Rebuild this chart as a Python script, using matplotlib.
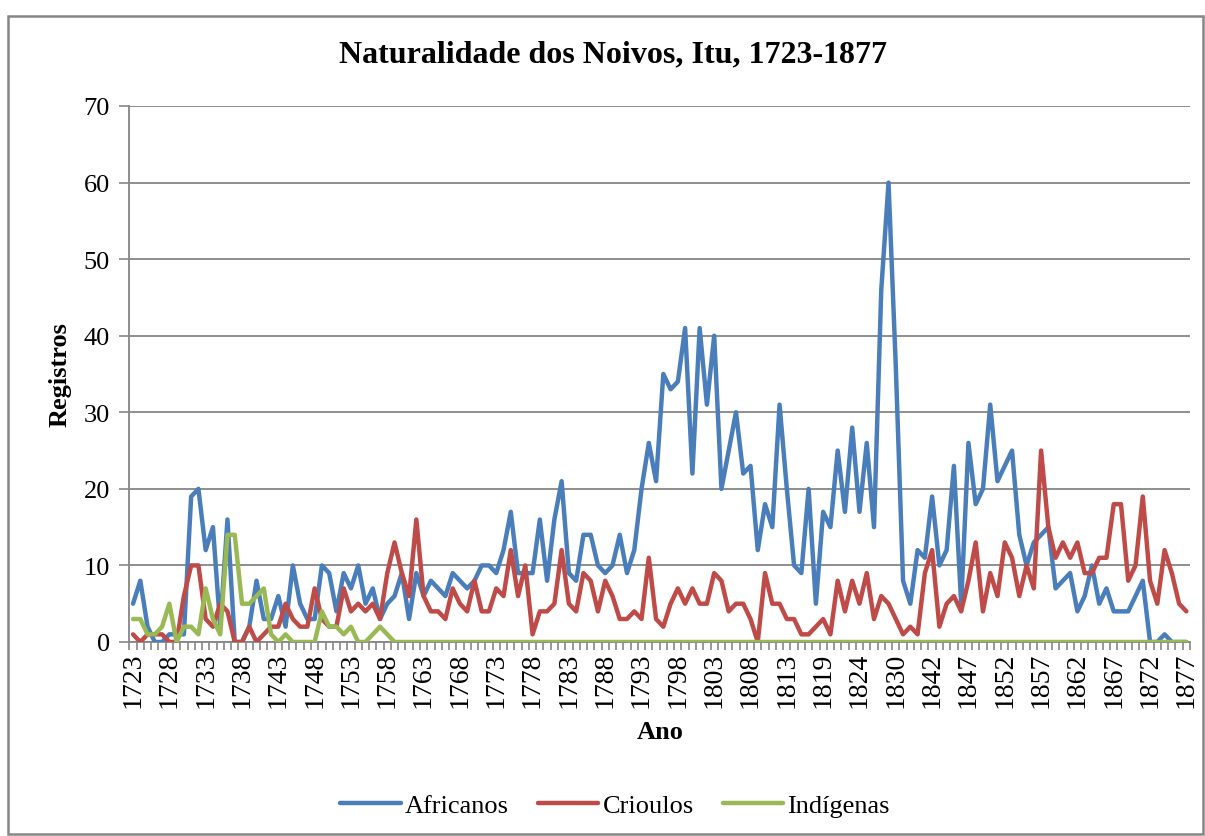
import matplotlib
matplotlib.use('Agg')
import matplotlib.pyplot as plt
from matplotlib.patches import Rectangle
import numpy as np

# Categories (years with records); labels shown every 5th category
years = (list(range(1723, 1814)) + [1814, 1815, 1817, 1818, 1819]
         + list(range(1820, 1825)) + [1825, 1826, 1827, 1828, 1830]
         + [1831, 1832, 1833, 1841, 1842] + list(range(1843, 1878)))

africanos = [5, 8, 2, 0, 0, 1, 1, 1, 19, 20,
             12, 15, 2, 16, 0, 0, 2, 8, 3, 3,
             6, 2, 10, 5, 3, 3, 10, 9, 4, 9,
             7, 10, 5, 7, 3, 5, 6, 9, 3, 9,
             6, 8, 7, 6, 9, 8, 7, 8, 10, 10,
             9, 12, 17, 9, 9, 9, 16, 8, 16, 21,
             9, 8, 14, 14, 10, 9, 10, 14, 9, 12,
             20, 26, 21, 35, 33, 34, 41, 22, 41, 31,
             40, 20, 25, 30, 22, 23, 12, 18, 15, 31,
             20, 10, 9, 20, 5, 17, 15, 25, 17, 28,
             17, 26, 15, 46, 60, 36, 8, 5, 12, 11,
             19, 10, 12, 23, 5, 26, 18, 20, 31, 21,
             23, 25, 14, 10, 13, 14, 15, 7, 8, 9,
             4, 6, 10, 5, 7, 4, 4, 4, 6, 8,
             0, 0, 1, 0, 0, 0]

crioulos = [1, 0, 1, 1, 1, 0, 0, 6, 10, 10,
            3, 2, 5, 4, 0, 0, 2, 0, 1, 2,
            2, 5, 3, 2, 2, 7, 3, 2, 2, 7,
            4, 5, 4, 5, 3, 9, 13, 9, 6, 16,
            6, 4, 4, 3, 7, 5, 4, 8, 4, 4,
            7, 6, 12, 6, 10, 1, 4, 4, 5, 12,
            5, 4, 9, 8, 4, 8, 6, 3, 3, 4,
            3, 11, 3, 2, 5, 7, 5, 7, 5, 5,
            9, 8, 4, 5, 5, 3, 0, 9, 5, 5,
            3, 3, 1, 1, 2, 3, 1, 8, 4, 8,
            5, 9, 3, 6, 5, 3, 1, 2, 1, 9,
            12, 2, 5, 6, 4, 8, 13, 4, 9, 6,
            13, 11, 6, 10, 7, 25, 15, 11, 13, 11,
            13, 9, 9, 11, 11, 18, 18, 8, 10, 19,
            8, 5, 12, 9, 5, 4]

indigenas = [3, 3, 1, 1, 2, 5, 0, 2, 2, 1,
             7, 3, 1, 14, 14, 5, 5, 6, 7, 1,
             0, 1, 0, 0, 0, 0, 4, 2, 2, 1,
             2, 0, 0, 1, 2, 1, 0, 0, 0, 0,
             0, 0, 0, 0, 0, 0, 0, 0, 0, 0,
             0, 0, 0, 0, 0, 0, 0, 0, 0, 0,
             0, 0, 0, 0, 0, 0, 0, 0, 0, 0,
             0, 0, 0, 0, 0, 0, 0, 0, 0, 0,
             0, 0, 0, 0, 0, 0, 0, 0, 0, 0,
             0, 0, 0, 0, 0, 0, 0, 0, 0, 0,
             0, 0, 0, 0, 0, 0, 0, 0, 0, 0,
             0, 0, 0, 0, 0, 0, 0, 0, 0, 0,
             0, 0, 0, 0, 0, 0, 0, 0, 0, 0,
             0, 0, 0, 0, 0, 0, 0, 0, 0, 0,
             0, 0, 0, 0, 0, 0]

series_names = ['Africanos', 'Crioulos', 'Indígenas']
series_colors = ['#4A7EBB', '#BE4B48', '#98B954']

plt.rcParams['font.family'] = ['Liberation Serif', 'DejaVu Serif']

W, H = 1205, 837
fig = plt.figure(figsize=(W / 100, H / 100), dpi=100)

# outer chart border
fig.patches.append(Rectangle((8 / W, 1 - 835 / H), (1203 - 8) / W, (835 - 17) / H,
                             transform=fig.transFigure, fill=False,
                             edgecolor='#868686', lw=1.8, zorder=0))

ax = fig.add_axes([129.4 / W, 1 - 643 / H, (1190 - 129.4) / W, (643 - 107) / H])
x = np.arange(len(years))
for vals, name, col in zip([africanos, crioulos, indigenas], series_names, series_colors):
    ax.plot(x, vals, color=col, lw=3.2, label=name, solid_joinstyle='round',
            solid_capstyle='round', zorder=3)

ax.set_xlim(-0.5, len(years) - 0.5)
ax.set_ylim(0, 70)
ax.set_yticks(range(0, 71, 10))
ax.grid(axis='y', color='#868686', lw=1.3)
ax.set_axisbelow(True)
for s in ['top', 'right']:
    ax.spines[s].set_visible(False)
for s in ['left', 'bottom']:
    ax.spines[s].set_color('#868686')
    ax.spines[s].set_linewidth(1.3)

ax.set_xticks(x[::5])
ax.set_xticklabels([str(years[i]) for i in x[::5]], rotation=90)
ax.set_xticks(np.arange(-0.5, len(years), 1), minor=True)
ax.tick_params(axis='x', which='major', length=0, pad=7, labelsize=20)
ax.tick_params(axis='x', which='minor', length=6, color='#868686', width=1.2)
ax.tick_params(axis='y', which='major', length=7, color='#868686', width=1.2,
               labelsize=19, pad=7)

ax.set_ylabel('Registros', fontsize=19, fontweight='bold', labelpad=9)
ax.set_xlabel('Ano', fontsize=19, fontweight='bold', labelpad=9)

fig.text(613 / W, 1 - 55 / H, 'Naturalidade dos Noivos, Itu, 1723-1877',
         ha='center', va='center', fontsize=23, fontweight='bold')

ax.legend(loc='center', bbox_to_anchor=(615 / W, 1 - 806 / H),
          bbox_transform=fig.transFigure, ncol=3, frameon=False, fontsize=19,
          handlelength=2.3, handletextpad=0.15, columnspacing=1.1)

fig.savefig('out.png', dpi=100)
